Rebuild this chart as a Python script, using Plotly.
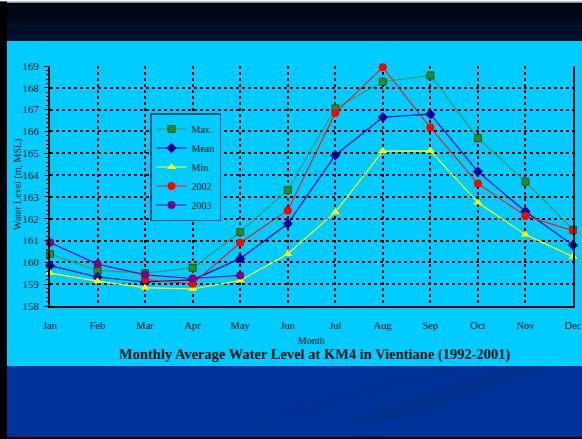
import plotly.graph_objects as go

months = ["Jan", "Feb", "Mar", "Apr", "May", "Jun", "Jul", "Aug", "Sep", "Oct", "Nov", "Dec"]
max_level = [160.38, 159.63, 159.51, 159.75, 161.39, 163.32, 167.06, 168.28, 168.57, 165.69, 163.70, 161.50]
mean_level = [159.85, 159.33, 159.10, 159.20, 160.17, 161.77, 164.91, 166.65, 166.79, 164.16, 162.33, 160.79]
min_level = [159.51, 159.14, 158.84, 158.78, 159.17, 160.38, 162.30, 165.10, 165.11, 162.74, 161.27, 160.26]
level_2002 = [None, None, 159.21, 159.02, 160.90, 162.38, 166.85, 168.94, 166.18, 163.61, 162.13, 161.45]
level_2003 = [160.91, 159.92, 159.43, 159.26, 159.40]
y_ticks = list(range(158, 170))

W, H = 582, 439
L, R, T, B = 50, 9, 66, 133
pw, ph = W - L - R, H - T - B


def px_x(x):
    return (x - L) / pw


def px_y(y):
    return (H - B - y) / ph


xs = list(range(len(months)))

series = [
    ("Max.", max_level, "#3a9a6a", dict(symbol="square", size=7, color="#2a8a2a", line=dict(color="#0b5e1e", width=1))),
    ("Mean", mean_level, "#0000a0", dict(symbol="diamond", size=8, color="#000090", line=dict(color="#000070", width=0))),
    ("Min.", min_level, "#ffff00", dict(symbol="triangle-up", size=8, color="#ffff00", line=dict(width=0))),
    ("2002", level_2002, "#ff1a1a", dict(symbol="circle", size=8, color="#ff0000", line=dict(width=0))),
    ("2003", level_2003, "#900090", dict(symbol="circle", size=8, color="#800080", line=dict(width=0))),
]

fig = go.Figure()
for name, vals, lc, mk in series:
    fig.add_trace(go.Scatter(
        x=xs[:len(vals)], y=vals, name=name, mode="lines+markers",
        line=dict(color=lc, width=1.2), marker=mk, cliponaxis=False,
    ))

shapes = []
# top dark band (stripes to mimic gradient)
top0, top1 = 3, 41
n = 12
c0, c1 = (0, 3, 12), (0, 17, 46)
for i in range(n):
    t = i / (n - 1)
    c = "rgb(%d,%d,%d)" % tuple(round(a + (b - a) * t) for a, b in zip(c0, c1))
    y0 = top0 + (top1 - top0) * i / n
    y1 = top0 + (top1 - top0) * (i + 1) / n + 0.6
    shapes.append(dict(type="rect", xref="paper", yref="paper", x0=px_x(0), x1=px_x(W),
                       y0=px_y(min(y1, top1)), y1=px_y(y0), fillcolor=c, line=dict(width=0), layer="below"))
# top gray line
shapes.append(dict(type="rect", xref="paper", yref="paper", x0=px_x(0), x1=px_x(W),
                   y0=px_y(3), y1=px_y(1.5), fillcolor="#8a8a8a", line=dict(width=0), layer="below"))
shapes.append(dict(type="rect", xref="paper", yref="paper", x0=px_x(0), x1=px_x(W),
                   y0=px_y(1.5), y1=px_y(0), fillcolor="#ffffff", line=dict(width=0), layer="below"))
# bottom blue band
shapes.append(dict(type="rect", xref="paper", yref="paper", x0=px_x(0), x1=px_x(W),
                   y0=px_y(437), y1=px_y(366), fillcolor="#003399", line=dict(width=0), layer="below"))
# subtle streaks
shapes.append(dict(type="path", xref="paper", yref="paper",
                   path=f"M {px_x(250)} {px_y(420)} L {px_x(420)} {px_y(368)} L {px_x(480)} {px_y(366)} L {px_x(300)} {px_y(415)} Z",
                   fillcolor="#003293", line=dict(width=0), layer="below"))
shapes.append(dict(type="path", xref="paper", yref="paper",
                   path=f"M {px_x(340)} {px_y(425)} L {px_x(500)} {px_y(368)} L {px_x(555)} {px_y(366)} L {px_x(400)} {px_y(420)} Z",
                   fillcolor="#00318f", line=dict(width=0), layer="below"))
# bottom black line
shapes.append(dict(type="rect", xref="paper", yref="paper", x0=px_x(0), x1=px_x(W),
                   y0=px_y(439), y1=px_y(437), fillcolor="#000000", line=dict(width=0), layer="below"))
# left black bar
shapes.append(dict(type="rect", xref="paper", yref="paper", x0=px_x(0), x1=px_x(7),
                   y0=px_y(439), y1=px_y(1.5), fillcolor="#000000", line=dict(width=0), layer="below"))

serif = "Liberation Serif, Times New Roman, serif"

fig.update_layout(
    width=W, height=H,
    margin=dict(l=L, r=R, t=T, b=B, pad=0, autoexpand=False),
    paper_bgcolor="#00ccff",
    plot_bgcolor="#00ccff",
    shapes=shapes,
    showlegend=True,
    legend=dict(x=px_x(150), y=px_y(113), xanchor="left", yanchor="top",
                bgcolor="#00ccff", bordercolor="#005577", borderwidth=1.5,
                font=dict(family=serif, size=10, color="#111111"),
                tracegroupgap=0, itemwidth=30),
    font=dict(family=serif, color="#111111"),
    xaxis=dict(
        range=[0, 11], tickvals=xs, ticktext=months, ticks="",
        showgrid=True, gridcolor="#000000", griddash="dot", gridwidth=1.5,
        showline=True, linecolor="#000000", linewidth=1.5,
        tickfont=dict(family=serif, size=10.5, color="#111111"),
        ticklabelstandoff=9, zeroline=False, automargin=False,
    ),
    yaxis=dict(
        range=[158, 169], tickvals=y_ticks, ticks="outside", ticklen=4, tickcolor="#000000",
        showgrid=True, gridcolor="#000000", griddash="dot", gridwidth=1.5,
        showline=True, linecolor="#000000", linewidth=1.5, mirror=True,
        tickfont=dict(family=serif, size=11, color="#111111"),
        ticklabelstandoff=3, zeroline=False, automargin=False,
        minor=dict(dtick=0.2, ticks="outside", ticklen=2, tickcolor="#000000", showgrid=False),
    ),
    annotations=[
        dict(text="Month", xref="paper", yref="paper", x=px_x(311), y=px_y(340),
             xanchor="center", yanchor="middle", showarrow=False,
             font=dict(family=serif, size=10, color="#111111")),
        dict(text="<b>Monthly Average Water Level at KM4 in Vientiane (1992-2001)</b>",
             xref="paper", yref="paper", x=px_x(315), y=px_y(354),
             xanchor="center", yanchor="middle", showarrow=False,
             font=dict(family=serif, size=14.5, color="#111111")),
        dict(text="Water Level (m, MSL)", xref="paper", yref="paper", x=px_x(18), y=px_y(185),
             xanchor="center", yanchor="middle", showarrow=False, textangle=-90,
             font=dict(family=serif, size=10, color="#111111")),
    ],
)

fig.write_html("out.html", config={"displayModeBar": False},
               post_script="document.body.style.margin='0';document.body.style.overflow='hidden';")
